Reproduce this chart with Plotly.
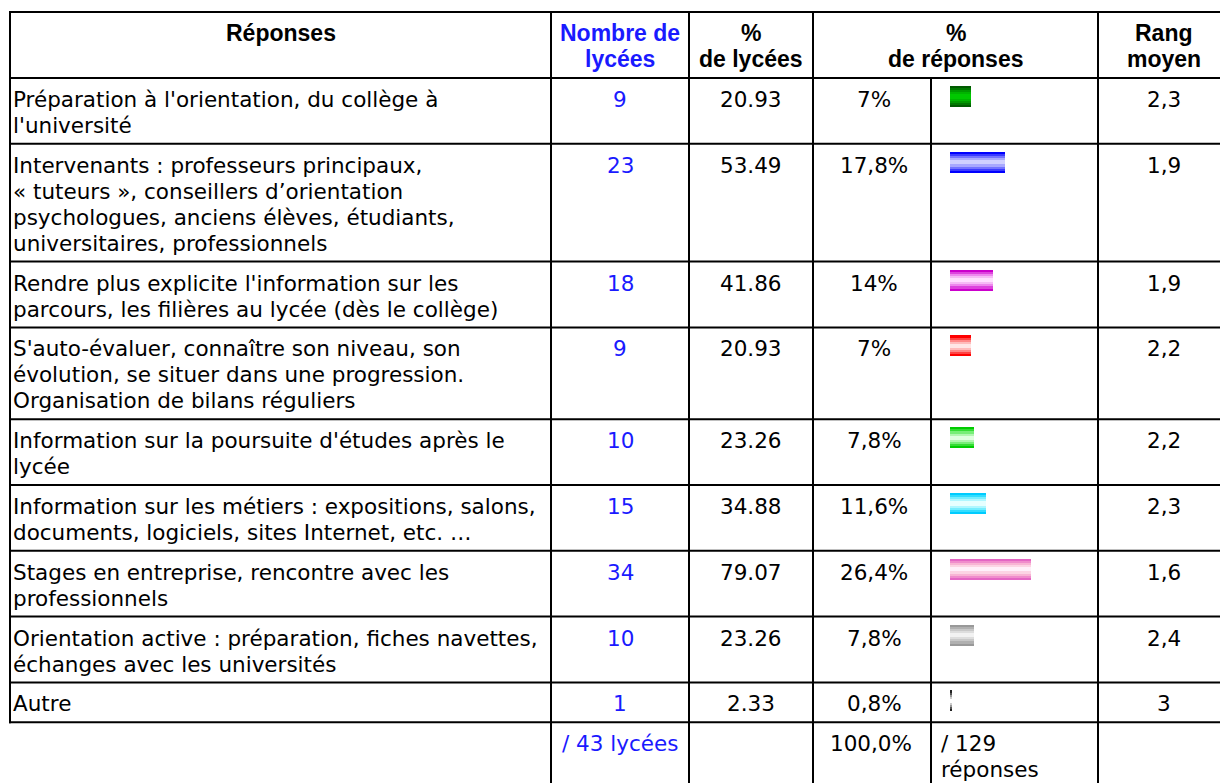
import plotly.graph_objects as go

# ---------------- data ----------------
reponses = [
    ["Préparation à l'orientation, du collège à", "l'université"],
    ["Intervenants : professeurs principaux,", "« tuteurs », conseillers d’orientation",
     "psychologues, anciens élèves, étudiants,", "universitaires, professionnels"],
    ["Rendre plus explicite l'information sur les", "parcours, les filières au lycée (dès le collège)"],
    ["S'auto-évaluer, connaître son niveau, son", "évolution, se situer dans une progression.",
     "Organisation de bilans réguliers"],
    ["Information sur la poursuite d'études après le", "lycée"],
    ["Information sur les métiers : expositions, salons,", "documents, logiciels, sites Internet, etc. …"],
    ["Stages en entreprise, rencontre avec les", "professionnels"],
    ["Orientation active : préparation, fiches navettes,", "échanges avec les universités"],
    ["Autre"],
]
nombre_lycees = [9, 23, 18, 9, 10, 15, 34, 10, 1]
pct_lycees = [20.93, 53.49, 41.86, 20.93, 23.26, 34.88, 79.07, 23.26, 2.33]
pct_reponses = [7, 17.8, 14, 7, 7.8, 11.6, 26.4, 7.8, 0.8]
rang_moyen = [2.3, 1.9, 1.9, 2.2, 2.2, 2.3, 1.6, 2.4, 3]
total_lycees = "/ 43 lycées"
total_pct = "100,0%"
total_reponses = ["/ 129", "réponses"]
headers = [["Réponses"], ["Nombre de", "lycées"], ["%", "de lycées"], ["%", "de réponses"], ["Rang", "moyen"]]

# bar gradients (edge -> centre)
bar_gradients = [
    ["#005a00", "#007800", "#009800", "#00b400", "#00c800"],
    ["#0000ff", "#3a3aff", "#7373ff", "#a8a8ff", "#d0d0ff"],
    ["#cc00cc", "#dd44dd", "#ee88ee", "#f6bbf6", "#ffe0ff"],
    ["#ff0000", "#ff4444", "#ff8888", "#ffbbbb", "#ffe6e6"],
    ["#00cc00", "#33dd33", "#77ee77", "#b0f7b0", "#e0ffe0"],
    ["#00ccff", "#33ddff", "#77eeff", "#b0f7ff", "#e6ffff"],
    ["#e466c4", "#f08ccc", "#f8b4d4", "#fcd4e4", "#fff0fa"],
    ["#999999", "#b0b0b0", "#c8c8c8", "#dddddd", "#f2f2f2"],
    ["#222222", "#555555", "#999999", "#cccccc", "#ffffff"],
]

# ---------------- layout geometry (screen pixels) ----------------
SCREEN_W, SCREEN_H = 1228, 783
OFF = 8                      # default page margin around the plot div
W, H = SCREEN_W - OFF, SCREEN_H - OFF
LEFT = 10
TOP = 12
HEAD_BOTTOM = 78
COLS = [551, 689, 813, 931, 1098]
RIGHT = 1240
LINE_H = 26
PAD = 13.8
BAR_X0 = 950
PX_PER_PCT = 3.07

BLUE = "#1a1aff"
BODY_FONT = "DejaVu Sans"
HEAD_FONT = "Liberation Sans"
BODY_SIZE = 21.5
HEAD_SIZE = 23


def fr_num(v, dec=1):
    if float(v).is_integer():
        return str(int(v))
    return f"{v:.{dec}f}".replace(".", ",")


row_tops = [HEAD_BOTTOM]
for lines in reponses:
    row_tops.append(row_tops[-1] + LINE_H * len(lines) + PAD)
body_bottom = row_tops[-1]

fig = go.Figure()

# bars (gradient from overlaid layers)
bar_h = 21
centers = [t + 8 + bar_h / 2 for t in row_tops[:-1]]
for k in range(5):
    fig.add_trace(go.Bar(
        x=pct_reponses, y=centers, orientation="h",
        width=bar_h - 4.2 * k,
        marker=dict(color=[g[k] for g in bar_gradients], line=dict(width=0)),
        xaxis="x2", yaxis="y", hoverinfo="skip", showlegend=False,
    ))

shapes = []
def hline(y, x0, x1):
    shapes.append(dict(type="line", xref="x", yref="y", x0=x0, x1=x1, y0=y, y1=y,
                       line=dict(color="black", width=2)))
def vline(x, y0, y1):
    shapes.append(dict(type="line", xref="x", yref="y", x0=x, x1=x, y0=y0, y1=y1,
                       line=dict(color="black", width=2)))

hline(TOP, LEFT - 1, RIGHT)
for y in row_tops:
    hline(y, LEFT - 1, RIGHT)
vline(LEFT, TOP - 1, body_bottom + 1)
for x in [COLS[0], COLS[1], COLS[2], COLS[4]]:
    vline(x, TOP - 1, SCREEN_H + 10)
vline(COLS[3], HEAD_BOTTOM, SCREEN_H + 10)

ann = []
def text(x, y, s, color="black", size=BODY_SIZE, family=BODY_FONT, align="center", bold=False):
    ann.append(dict(x=x, y=y, xref="x", yref="y", text=(f"<b>{s}</b>" if bold else s),
                    showarrow=False, xanchor=align, yanchor="middle",
                    font=dict(color=color, size=size, family=family)))

# header
head_centers = [(LEFT + COLS[0]) / 2, (COLS[0] + COLS[1]) / 2, (COLS[1] + COLS[2]) / 2,
                (COLS[2] + COLS[4]) / 2, (COLS[4] + SCREEN_W + 2) / 2]
for i, lines in enumerate(headers):
    for j, s in enumerate(lines):
        text(head_centers[i], TOP + 21 + LINE_H * j, s,
             color=BLUE if i == 1 else "black", size=HEAD_SIZE, family=HEAD_FONT, bold=True)

c_nb = (COLS[0] + COLS[1]) / 2
c_pl = (COLS[1] + COLS[2]) / 2
c_pr = (COLS[2] + COLS[3]) / 2 + 2
c_rg = (COLS[4] + SCREEN_W + 2) / 2
for i, lines in enumerate(reponses):
    y0 = row_tops[i] + PAD / 2 + LINE_H / 2 + 1.5
    for j, s in enumerate(lines):
        text(LEFT + 1, y0 + LINE_H * j, s, align="left")
    text(c_nb, y0, str(nombre_lycees[i]), color=BLUE)
    text(c_pl, y0, f"{pct_lycees[i]:.2f}")
    text(c_pr, y0, fr_num(pct_reponses[i]) + "%")
    text(c_rg, y0, fr_num(rang_moyen[i]))

yb = body_bottom + PAD / 2 + LINE_H / 2 + 1.5
text(c_nb, yb, total_lycees, color=BLUE)
text(c_pr - 3, yb, total_pct)
for j, s in enumerate(total_reponses):
    text(COLS[3] + 8, yb + LINE_H * j, s, align="left")

fig.update_layout(
    width=W, height=H, margin=dict(l=0, r=0, t=0, b=0),
    paper_bgcolor="white", plot_bgcolor="white",
    barmode="overlay", bargap=0,
    xaxis=dict(range=[OFF, SCREEN_W], visible=False, fixedrange=True),
    xaxis2=dict(domain=[(BAR_X0 - OFF) / W, (COLS[4] - OFF) / W],
                range=[0, (COLS[4] - BAR_X0) / PX_PER_PCT],
                anchor="y", visible=False, fixedrange=True),
    yaxis=dict(range=[SCREEN_H, OFF], visible=False, fixedrange=True),
    shapes=shapes, annotations=ann, hovermode=False, showlegend=False,
)

fig.write_html("out.html", config={"displayModeBar": False})
